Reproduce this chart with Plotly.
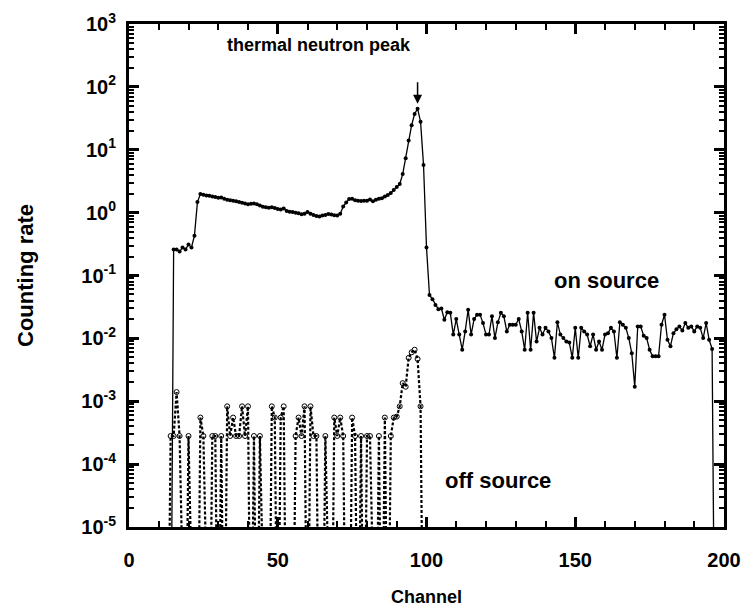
import plotly.graph_objects as go

# on-source counting rate, one value per channel starting at channel 14 (0 = no counts)
on_start = 14
on_rate = [
    0, 0.26, 0.26, 0.24, 0.28, 0.26, 0.31, 0.28, 0.43, 1.47,
    1.97, 1.93, 1.88, 1.85, 1.80, 1.77, 1.72, 1.74, 1.66, 1.60,
    1.58, 1.55, 1.52, 1.47, 1.44, 1.40, 1.36, 1.38, 1.40, 1.36,
    1.30, 1.24, 1.22, 1.20, 1.22, 1.18, 1.14, 1.12, 1.16, 1.06,
    1.03, 1.02, 1.00, 0.98, 0.94, 0.96, 1.02, 0.96, 0.92, 0.88,
    0.87, 0.90, 0.92, 0.95, 0.93, 0.91, 0.90, 0.96, 1.25, 1.45,
    1.64, 1.66, 1.58, 1.54, 1.53, 1.55, 1.54, 1.62, 1.52, 1.60,
    1.66, 1.70, 1.80, 1.90, 2.05, 2.30, 2.55, 2.85, 4.1, 7.3,
    14.0, 24.6, 37.0, 45.0, 28.0, 5.7, 0.28, 0.049, 0.042, 0.034,
    0.029, 0.030, 0.0198, 0.026, 0.0255, 0.0115, 0.0203, 0.0115, 0.0066, 0.0129,
    0.0286, 0.0115, 0.0203, 0.0238, 0.0238, 0.0175, 0.0115, 0.0115, 0.0224, 0.0101,
    0.018, 0.0255, 0.0224, 0.0129, 0.0165, 0.0165, 0.0165, 0.0203, 0.0129, 0.0066,
    0.0255, 0.0066, 0.0255, 0.0089, 0.0147, 0.0115, 0.0147, 0.0129, 0.0101, 0.0049,
    0.018, 0.0115, 0.0101, 0.0089, 0.0086, 0.0049, 0.0147, 0.0049, 0.0147, 0.0129,
    0.0115, 0.0075, 0.0115, 0.0066, 0.0089, 0.0066, 0.0115, 0.0121, 0.0147, 0.0129,
    0.0049, 0.018, 0.0165, 0.0147, 0.0101, 0.0058, 0.0017, 0.0155, 0.0155, 0.011,
    0.0101, 0.0066, 0.0052, 0.0052, 0.0052, 0.0165, 0.0238, 0.0095, 0.0075, 0.0121,
    0.014, 0.0155, 0.0133, 0.0175, 0.0147, 0.0155, 0.0129, 0.0155, 0.0147, 0.0101,
    0.0175, 0.0095, 0.0068, 0,
]

# off-source counting rate, starting at channel 13
off_start = 13
off_rate = [
    0, 2.8e-4, 2.8e-4, 1.4e-3, 2.8e-4, 0, 0, 2.8e-4, 0, 0,
    0, 5.5e-4, 2.8e-4, 0, 0, 2.8e-4, 2.8e-4, 0, 2.8e-4, 0,
    8.3e-4, 2.8e-4, 5.5e-4, 2.8e-4, 2.8e-4, 8.3e-4, 2.8e-4, 8.3e-4, 0, 2.8e-4,
    0, 2.8e-4, 0, 0, 0, 8.3e-4, 5.5e-4, 0, 5.5e-4, 8.3e-4,
    0, 0, 0, 2.8e-4, 5.5e-4, 2.8e-4, 8.3e-4, 0, 8.3e-4, 2.8e-4,
    2.8e-4, 0, 0, 2.8e-4, 0, 0, 5.5e-4, 2.8e-4, 5.5e-4, 2.8e-4,
    0, 0, 5.5e-4, 2.8e-4, 0, 2.8e-4, 0, 2.8e-4, 2.8e-4, 0,
    0, 2.8e-4, 0, 5.5e-4, 0, 2.8e-4, 5.5e-4, 5.7e-4, 8.3e-4, 1.94e-3,
    1.7e-3, 4.9e-3, 6.0e-3, 6.6e-3, 4.7e-3, 8.3e-4, 0,
]

x_ticks = [0, 50, 100, 150, 200]
y_ticks = [1e-5, 1e-4, 1e-3, 1e-2, 1e-1, 1, 1e1, 1e2, 1e3]
y_ticktext = ["10<sup>-5</sup>", "10<sup>-4</sup>", "10<sup>-3</sup>", "10<sup>-2</sup>",
              "10<sup>-1</sup>", "10<sup>0</sup>", "10<sup>1</sup>", "10<sup>2</sup>",
              "10<sup>3</sup>"]

FLOOR = 1e-8  # zero counts drawn off the bottom of the log axis
FONT = "Arial, Liberation Sans, sans-serif"

on_x = list(range(on_start, on_start + len(on_rate)))
off_x = list(range(off_start, off_start + len(off_rate)))

fig = go.Figure()
fig.add_trace(go.Scatter(
    x=off_x, y=[v if v > 0 else FLOOR for v in off_rate],
    mode="lines+markers",
    line=dict(color="black", width=2.2, dash="3px,2px"),
    marker=dict(symbol="circle-open", size=5, color="black", line=dict(width=1)),
    showlegend=False,
))
fig.add_trace(go.Scatter(
    x=on_x, y=[v if v > 0 else FLOOR for v in on_rate],
    mode="lines+markers",
    line=dict(color="black", width=1.3),
    marker=dict(symbol="circle", size=4, color="black"),
    showlegend=False,
))


def bold(size):
    return dict(family=FONT, size=size, color="black", weight="bold")


fig.add_annotation(x=97, y=1.73, ax=0, ay=-23, text="", showarrow=True,
                   arrowhead=2, arrowsize=1.2, arrowwidth=1.5, arrowcolor="black")
fig.add_annotation(x=64, y=2.66, text="thermal neutron peak", showarrow=False, font=bold(18))
fig.add_annotation(x=160.5, y=-1.08, text="on source", showarrow=False, font=bold(22))
fig.add_annotation(x=124, y=-4.26, text="off source", showarrow=False, font=bold(22))

axis_common = dict(
    showline=True, linewidth=3, linecolor="black", mirror="allticks",
    ticks="inside", tickcolor="black", showgrid=False, zeroline=False,
    tickfont=bold(20), automargin=False,
)
fig.update_xaxes(
    range=[0, 200], tickvals=x_ticks, ticklen=10, tickwidth=2.5,
    minor=dict(ticks="inside", dtick=10, ticklen=6, tickwidth=2, tickcolor="black"),
    ticklabelstandoff=13,
    title=dict(text="Channel", font=bold(18), standoff=24),
    **axis_common,
)
fig.update_yaxes(
    type="log", range=[-5, 3], tickvals=y_ticks, ticktext=y_ticktext,
    ticklen=10, tickwidth=2.5,
    minor=dict(ticks="inside", dtick="D1", ticklen=5, tickwidth=2, tickcolor="black"),
    ticklabelstandoff=6,
    title=dict(text="Counting rate", font=bold(22), standoff=42),
    **axis_common,
)
# the page adds an 8 px body margin on every side, so the figure is sized to
# leave room for it inside the 753x615 window
fig.update_layout(
    width=737, height=599,
    margin=dict(l=121, r=21, t=16, b=80),
    plot_bgcolor="white", paper_bgcolor="white",
)

fig.write_html("out.html")
